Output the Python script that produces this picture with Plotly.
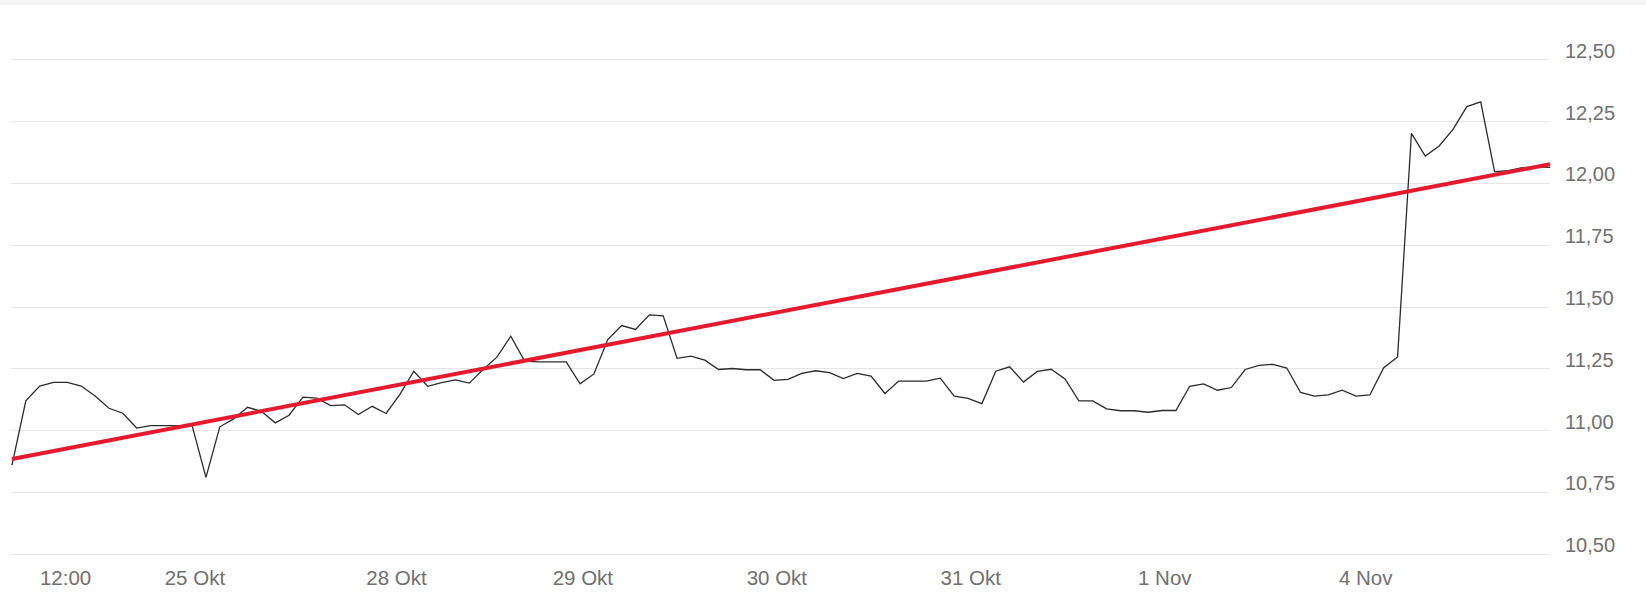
import plotly.graph_objects as go

# --- data ---
point_index = list(range(112))
price = [
    10.86, 11.12, 11.18, 11.195, 11.195, 11.18, 11.14, 11.09, 11.07, 11.01,
    11.02, 11.02, 11.02, 11.02, 10.81, 11.015, 11.047, 11.094, 11.078, 11.031,
    11.062, 11.135, 11.131, 11.101, 11.104, 11.065, 11.098, 11.069, 11.146, 11.24,
    11.179, 11.194, 11.205, 11.192, 11.247, 11.297, 11.382, 11.281, 11.278, 11.278,
    11.278, 11.189, 11.229, 11.368, 11.425, 11.409, 11.468, 11.464, 11.292, 11.301,
    11.285, 11.247, 11.251, 11.246, 11.246, 11.203, 11.207, 11.231, 11.242, 11.234,
    11.21, 11.231, 11.22, 11.15, 11.2, 11.2, 11.2, 11.212, 11.139, 11.13,
    11.109, 11.24, 11.258, 11.196, 11.239, 11.248, 11.209, 11.12, 11.12, 11.088,
    11.08, 11.08, 11.074, 11.081, 11.081, 11.179, 11.189, 11.163, 11.174, 11.247,
    11.264, 11.268, 11.253, 11.154, 11.139, 11.144, 11.163, 11.139, 11.144, 11.254,
    11.298, 12.203, 12.111, 12.152, 12.219, 12.311, 12.33, 12.048, 12.052, 12.064,
    12.067, 12.065,
]

trend_x = [0, 111]
trend_y = [10.885, 12.078]

x_tick_positions = [3.87, 13.2, 27.75, 41.2, 55.2, 69.2, 83.2, 97.7]
x_tick_labels = ["12:00", "25 Okt", "28 Okt", "29 Okt", "30 Okt", "31 Okt", "1 Nov", "4 Nov"]

y_tick_values = [10.5, 10.75, 11.0, 11.25, 11.5, 11.75, 12.0, 12.25, 12.5]

FONT = "Arial, Liberation Sans, Helvetica, sans-serif"
LABEL_COLOR = "#707070"

fig = go.Figure()
fig.add_trace(go.Scatter(
    x=point_index, y=price, mode="lines",
    line=dict(color="#2b2b2b", width=1.3),
    hoverinfo="skip", showlegend=False,
))
fig.add_trace(go.Scatter(
    x=trend_x, y=trend_y, mode="lines",
    line=dict(color="#e8192c", width=4),
    hoverinfo="skip", showlegend=False,
))

fig.update_layout(
    width=1646, height=610,
    margin=dict(l=11, r=96, t=57, b=53),
    paper_bgcolor="white", plot_bgcolor="white",
    separators=",.",
    font=dict(family=FONT, size=20, color=LABEL_COLOR),
    xaxis=dict(
        range=[-0.07, 111],
        tickmode="array", tickvals=x_tick_positions, ticktext=x_tick_labels,
        showgrid=False, zeroline=False, showline=False, ticks="",
        ticklabelstandoff=6,
        tickfont=dict(family=FONT, size=20.5, color=LABEL_COLOR),
    ),
    yaxis=dict(
        range=[10.488, 12.512], side="right",
        tickmode="array", tickvals=y_tick_values, tickformat=".2f",
        showgrid=True, gridcolor="#e6e6e6", gridwidth=1,
        zeroline=False, showline=False, ticks="",
        ticklabelshift=-9,
        ticklabelstandoff=14,
        tickfont=dict(family=FONT, size=20, color=LABEL_COLOR),
    ),
    shapes=[dict(
        type="rect", xref="paper", yref="paper",
        x0=-0.01, x1=1.07,
        ysizemode="pixel", yanchor=1, y0=52, y1=58,
        fillcolor="#f3f3f3", line=dict(width=0), layer="below",
    )],
)

fig.write_html(
    "out.html",
    config={"displayModeBar": False},
    post_script="document.body.style.margin='0';document.body.style.padding='0';",
)
